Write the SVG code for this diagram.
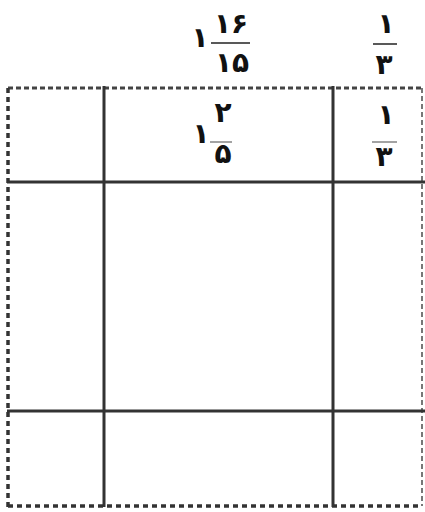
<svg xmlns="http://www.w3.org/2000/svg" width="425" height="512" viewBox="0 0 425 512">
<style>
.grid{stroke:#333;stroke-width:3;fill:none}
.dash{stroke:#444;stroke-width:3;stroke-dasharray:5 3;fill:none}
.dot{stroke:#333;stroke-width:3.5;stroke-dasharray:5 4;fill:none}
.rdash{stroke:#777;stroke-width:2;stroke-dasharray:5 3;fill:none}
.num{font-family:"DejaVu Sans",sans-serif;font-weight:bold;font-size:28px;fill:#111;text-anchor:middle;direction:ltr}
.bar{stroke:#222;stroke-width:1.5}
.bar2{stroke:#666;stroke-width:1.2}
</style>
<g id="connectors">
<line class="dash" x1="8" y1="88" x2="422" y2="88"/>
<line class="dot" x1="8" y1="88" x2="8" y2="508"/>
<line class="dot" x1="8" y1="506" x2="422" y2="506"/>
<line class="rdash" x1="422" y1="88" x2="422" y2="506"/>
<line class="grid" x1="104" y1="86" x2="104" y2="507"/>
<line class="grid" x1="333" y1="86" x2="333" y2="507"/>
<line class="grid" x1="7" y1="182" x2="425" y2="182"/>
<line class="grid" x1="7" y1="411" x2="425" y2="411"/>
</g>
<g id="top-left-fraction">
<text class="num" x="200" y="47">۱</text>
<text class="num" x="231" y="33">۱۶</text>
<line class="bar" x1="211" y1="43" x2="250" y2="43"/>
<text class="num" x="232" y="72">۱۵</text>
</g>
<g id="top-right-fraction">
<text class="num" x="386" y="33">۱</text>
<line class="bar" x1="373" y1="44" x2="397" y2="44"/>
<text class="num" x="384" y="74">۳</text>
</g>
<g id="mid-left-fraction">
<text class="num" x="201" y="143">۱</text>
<text class="num" x="223" y="122">۲</text>
<line class="bar2" x1="210" y1="142" x2="232" y2="142"/>
<text class="num" x="223" y="163">۵</text>
</g>
<g id="mid-right-fraction">
<text class="num" x="386" y="124">۱</text>
<line class="bar2" x1="372" y1="142" x2="397" y2="142"/>
<text class="num" x="384" y="166">۳</text>
</g>
</svg>
